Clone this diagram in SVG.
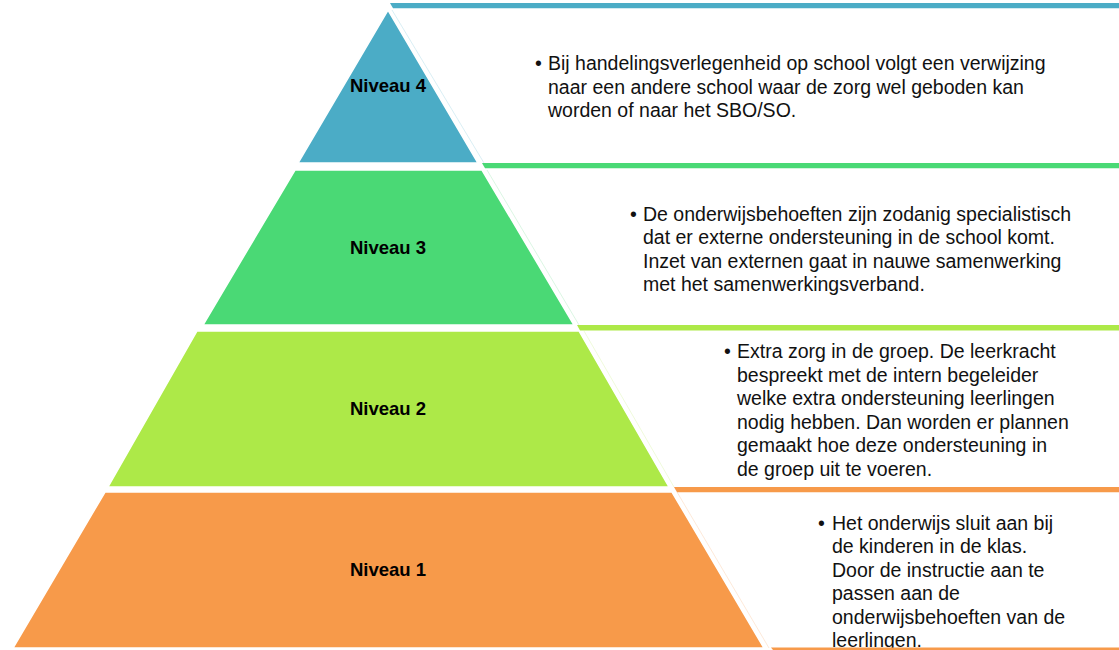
<svg xmlns="http://www.w3.org/2000/svg" width="1119" height="650" viewBox="0 0 1119 650">
<style>
.lbl{font-family:"Liberation Sans",Arial,sans-serif;font-weight:bold;font-size:18.5px;fill:#000;text-anchor:middle}
.txt{font-family:"Liberation Sans",Arial,sans-serif;font-size:19.5px;fill:#111}
.tier{stroke:#fff;stroke-width:1.5}
.teal{fill:#4BACC6}.green{fill:#4AD975}.lime{fill:#ADE948}.orange{fill:#F79A4A}
.edge{fill:none;stroke-width:0.8}
</style>
<rect width="1119" height="650" fill="#fff"/>
<g id="niveau4">
<polygon class="teal" points="390,3 1119,3 1119,8.3 393,8.3"/>
<polygon class="tier teal" points="388,10 478,163 298,163"/>
<line class="edge" x1="392" y1="10" x2="484" y2="163" stroke="#cfeaf1"/>
<text class="lbl" x="388" y="92">Niveau 4</text>
<text class="txt" x="535" y="70">•</text>
<text class="txt"><tspan x="548" y="70">Bij handelingsverlegenheid op school volgt een verwijzing</tspan><tspan x="548" y="93.5">naar een andere school waar de zorg wel geboden kan</tspan><tspan x="548" y="117">worden of naar het SBO/SO.</tspan></text>
</g>
<g id="niveau3">
<polygon class="green" points="482,163 1119,163 1119,168.3 485,168.3"/>
<polygon class="tier green" points="295,170 482,170 574,325 203,325"/>
<line class="edge" x1="487" y1="170" x2="579" y2="325" stroke="#d2f4dc"/>
<text class="lbl" x="388" y="254">Niveau 3</text>
<text class="txt" x="630" y="220.5">•</text>
<text class="txt"><tspan x="643" y="220.5">De onderwijsbehoeften zijn zodanig specialistisch</tspan><tspan x="643" y="244">dat er externe ondersteuning in de school komt.</tspan><tspan x="643" y="267.5">Inzet van externen gaat in nauwe samenwerking</tspan><tspan x="643" y="291">met het samenwerkingsverband.</tspan></text>
</g>
<g id="niveau2">
<polygon class="lime" points="577,325 1119,325 1119,330.5 580,330.5"/>
<polygon class="tier lime" points="197,331 579,331 669,487 108,487"/>
<line class="edge" x1="584" y1="331" x2="674" y2="487" stroke="#ebf9d2"/>
<text class="lbl" x="388" y="415">Niveau 2</text>
<text class="txt" x="724" y="358">•</text>
<text class="txt"><tspan x="737" y="358">Extra zorg in de groep. De leerkracht</tspan><tspan x="737" y="381.5">bespreekt met de intern begeleider</tspan><tspan x="737" y="405">welke extra ondersteuning leerlingen</tspan><tspan x="737" y="428.5">nodig hebben. Dan worden er plannen</tspan><tspan x="737" y="452">gemaakt hoe deze ondersteuning in</tspan><tspan x="737" y="475.5">de groep uit te voeren.</tspan></text>
</g>
<g id="niveau1">
<polygon class="tier orange" points="105,492 672,492 764,648 13,648"/>
<line class="edge" x1="677" y1="492" x2="769" y2="648" stroke="#fde3cf"/>
<text class="lbl" x="388" y="576">Niveau 1</text>
<text class="txt" x="818" y="529.5">•</text>
<text class="txt"><tspan x="832" y="529.5">Het onderwijs sluit aan bij</tspan><tspan x="832" y="553">de kinderen in de klas.</tspan><tspan x="832" y="576.5">Door de instructie aan te</tspan><tspan x="832" y="600">passen aan de</tspan><tspan x="832" y="623.5">onderwijsbehoeften van de</tspan><tspan x="832" y="647">leerlingen.</tspan></text>
<polygon class="orange" points="674,487 1119,487 1119,492.3 677,492.3"/>
<polygon class="orange" points="771,647.5 1119,647.5 1119,650 773,650"/>
</g>
</svg>
